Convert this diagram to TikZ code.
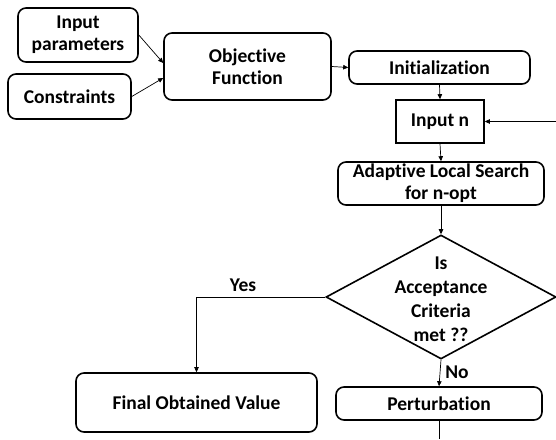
\documentclass[tikz,border=0pt]{standalone}
\usepackage{fontspec}
\setmainfont{Carlito}[Ligatures={NoCommon,NoContextual}]
\usetikzlibrary{arrows.meta,shapes.geometric}
\begin{document}
\begin{tikzpicture}[x=1pt,y=-1pt,
  font=\fontsize{19.5}{22}\selectfont\bfseries,
  box/.style={draw,line width=1.6pt,rounded corners=8pt,align=center,inner sep=0pt},
  sqbox/.style={draw,line width=1.6pt,align=center,inner sep=0pt},
  conn/.style={line width=0.7pt,-{Triangle[length=5pt,width=4.5pt]}},
  plain/.style={line width=0.7pt},
  lbl/.style={inner sep=0pt}]
\useasboundingbox (0,0) rectangle (556,439);
\node[box,minimum width=120pt,minimum height=54pt] (inp) at (78,35) {Input\\parameters};
\node[box,minimum width=123pt,minimum height=45pt] (con) at (69.5,96.5) {Constraints};
\node[box,minimum width=167pt,minimum height=67pt] (obj) at (247.5,66.5) {Objective\\Function};
\node[box,minimum width=181pt,minimum height=33pt] (ini) at (439.5,67.5) {Initialization};
\node[sqbox,minimum width=88pt,minimum height=43pt] (inn) at (440,121.5) {Input n};
\node[box,minimum width=206pt,minimum height=43pt] (als) at (441,183.5) {Adaptive Local Search\\for n-opt};
\node[diamond,draw,line width=1.6pt,minimum width=230pt,minimum height=124pt,inner sep=0pt] (dec) at (441,297) {};
\node[lbl,align=center,font=\fontsize{19.5}{24}\selectfont\bfseries] (dect) at (441,299) {Is\\Acceptance\\Criteria\\met ??};
\node[box,minimum width=206pt,minimum height=33pt] (per) at (439,403.5) {Perturbation};
\node[box,minimum width=241pt,minimum height=59pt] (fin) at (196.5,402.5) {Final Obtained Value};
\node[lbl] (yes) at (243,285) {Yes};
\node[lbl] (no) at (457,372) {No};
\coordinate (loopin) at (556,121.5);
\coordinate (loopout) at (439,439);
\draw[conn] (inp.east) -- ([yshift=3.5pt]obj.west);
\draw[conn] (con.east) -- ([yshift=-11.5pt]obj.west);
\draw[conn] (obj.east) -- (ini.west);
\draw[conn] (ini.south) -- (inn.north);
\draw[conn] (inn.south) -- (als.north);
\draw[conn] (als.south) -- (dec.north);
\draw[conn] (dec.south) -- (per.north);
\draw[conn] (dec.west) -| (fin.north);
\draw[conn] (loopin) -- (inn.east);
\draw[plain] (per.south) -- (loopout);
\end{tikzpicture}
\end{document}
